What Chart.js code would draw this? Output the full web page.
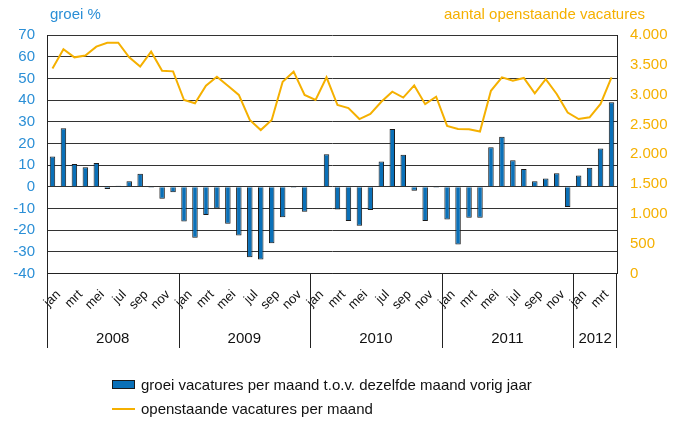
<!DOCTYPE html>
<html>
<head>
<meta charset="utf-8">
<script src="https://cdn.jsdelivr.net/npm/chart.js@4/dist/chart.umd.min.js"></script>
<style>
    html, body { margin: 0; padding: 0; background: #fff; }
    #wrap { position: relative; width: 688px; height: 421px; font-family: "Liberation Sans", Arial, sans-serif; }
    #vacChart { position: absolute; left: 0; top: 0; }
    .axis-title { position: absolute; top: 5px; font-size: 15px; white-space: nowrap; }
    .legend-row { position: absolute; left: 112px; font-size: 15px; color: #111; white-space: nowrap; display: flex; align-items: center; }
    .swatch-bar { width: 21px; height: 7px; background: #0a70b8; border: 1px solid #1a1a1a; margin-right: 6px; }
    .swatch-line { width: 23px; height: 2px; background: #f5b000; margin-right: 6px; }
</style>
</head>
<body>
<div id="wrap">
    <canvas id="vacChart" width="688" height="421"></canvas>
    <div class="axis-title" style="left:50px;color:#2b8fd6;">groei %</div>
    <div class="axis-title" style="right:43px;color:#f5b000;">aantal openstaande vacatures</div>
    <div class="legend-row" style="top:376px;"><span class="swatch-bar"></span>groei vacatures per maand t.o.v. dezelfde maand vorig jaar</div>
    <div class="legend-row" style="top:400px;"><span class="swatch-line"></span>openstaande vacatures per maand</div>
</div>
<script>
// Month names (jan 2008 - apr 2012)
const monthNames = ['jan', 'feb', 'mrt', 'apr', 'mei', 'jun', 'jul', 'aug', 'sep', 'okt', 'nov', 'dec'];
const years = ['2008', '2009', '2010', '2011', '2012'];
const monthsPerYear = [12, 12, 12, 12, 4];

// groei vacatures t.o.v. zelfde maand vorig jaar (%)
const growth = [
    14, 27, 10.5, 9, 11, -1, 0.5, 2.5, 6, -0.5, -5.5, -2.5,
    -16, -23.5, -13, -10, -17, -22.5, -32.5, -33.5, -26, -14, -0.5, -11.5,
    0.3, 15, -10.5, -15.8, -18, -10.7, 11.7, 26.6, 14.8, -1.8, -15.8, -0.5,
    -15.1, -26.6, -14.3, -14.3, 18.2, 23.1, 12.2, 8.2, 2.5, 3.8, 6.2, -9.3,
    5.2, 8.8, 17.7, 39
];

// openstaande vacatures per maand
const openVacancies = [
    3440, 3760, 3625, 3655, 3805, 3870, 3870, 3625, 3470, 3720, 3400, 3390,
    2910, 2855, 3150, 3300, 3150, 2995, 2575, 2405, 2575, 3215, 3385, 2995,
    2910, 3290, 2826, 2775, 2590, 2675, 2880, 3050, 2950, 3155, 2840, 2965,
    2475, 2425, 2420, 2380, 3065, 3290, 3235, 3280, 3020, 3260, 3010, 2700,
    2590, 2620, 2845, 3290
];

// Build category labels from the years / months
const labels = [];
years.forEach((yr, k) => {
    for (let m = 0; m < monthsPerYear[k]; m++) labels.push(monthNames[m]);
});

const FONT = '"Liberation Sans", Arial, sans-serif';

// Draws the rotated month labels (every other month) and the year row below them
const monthYearPlugin = {
    id: 'monthYearRow',
    afterDraw(chart) {
        const { ctx, chartArea, scales: { x } } = chart;
        const step = x.getPixelForValue(1) - x.getPixelForValue(0);
        const bottom = 348;
        ctx.save();

        // month labels at 45 degrees, text ending near the category
        ctx.fillStyle = '#111';
        ctx.font = '13px ' + FONT;
        ctx.textAlign = 'right';
        ctx.textBaseline = 'middle';
        labels.forEach((lbl, i) => {
            if (i % 2 !== 0) return;
            const px = x.getPixelForValue(i) + 6;
            const py = chartArea.bottom + 19;
            ctx.save();
            ctx.translate(px, py);
            ctx.rotate(-Math.PI / 4);
            ctx.fillText(lbl, 0, 0);
            ctx.restore();
        });

        // year separators and names
        ctx.strokeStyle = '#222';
        ctx.lineWidth = 1;
        ctx.font = '15px ' + FONT;
        ctx.textAlign = 'center';
        let start = 0;
        years.forEach((yr, k) => {
            const left = x.getPixelForValue(start) - step / 2;
            const right = x.getPixelForValue(start + monthsPerYear[k] - 1) + step / 2;
            ctx.beginPath();
            ctx.moveTo(Math.round(left) + 0.5, chartArea.bottom);
            ctx.lineTo(Math.round(left) + 0.5, bottom);
            ctx.stroke();
            if (k === years.length - 1) {
                ctx.beginPath();
                ctx.moveTo(Math.round(right) - 0.5, chartArea.bottom);
                ctx.lineTo(Math.round(right) - 0.5, bottom);
                ctx.stroke();
            }
            ctx.fillText(yr, (left + right) / 2, 339);
            start += monthsPerYear[k];
        });
        ctx.restore();
    }
};

new Chart(document.getElementById('vacChart'), {
    type: 'bar',
    data: {
        labels: labels,
        datasets: [
            {
                type: 'line',
                label: 'openstaande vacatures per maand',
                data: openVacancies,
                yAxisID: 'y1',
                borderColor: '#f5b000',
                borderWidth: 2,
                pointRadius: 0,
                tension: 0,
                fill: false,
                order: 0
            },
            {
                type: 'bar',
                label: 'groei vacatures per maand t.o.v. dezelfde maand vorig jaar',
                data: growth,
                yAxisID: 'y',
                backgroundColor: '#0a70b8',
                borderColor: '#1a1a1a',
                borderWidth: 1,
                barPercentage: 0.5,
                categoryPercentage: 1,
                order: 1
            }
        ]
    },
    options: {
        responsive: false,
        animation: false,
        layout: { padding: { top: 35, left: 0, right: 0, bottom: 0 } },
        plugins: {
            legend: { display: false },
            tooltip: { enabled: false }
        },
        scales: {
            x: {
                grid: { display: false, drawTicks: false },
                border: { display: true, color: '#222', width: 1 },
                ticks: { display: false },
                afterFit: (scale) => { scale.height = 147.5; }
            },
            y: {
                position: 'left',
                min: -40,
                max: 70,
                grid: { color: '#333', lineWidth: 1, drawTicks: false },
                border: { display: true, color: '#222', width: 1 },
                ticks: {
                    stepSize: 10,
                    padding: 12,
                    color: '#2b8fd6',
                    font: { family: FONT, size: 15 }
                },
                afterFit: (scale) => { scale.width = 47; }
            },
            y1: {
                position: 'right',
                min: 0,
                max: 4000,
                grid: { display: false, drawTicks: false },
                border: { display: true, color: '#222', width: 1 },
                ticks: {
                    stepSize: 500,
                    padding: 13,
                    color: '#f5b000',
                    font: { family: FONT, size: 15 },
                    callback: (v) => v.toLocaleString('nl-NL')
                },
                afterFit: (scale) => { scale.width = 71; }
            }
        }
    },
    plugins: [monthYearPlugin]
});
</script>
</body>
</html>
